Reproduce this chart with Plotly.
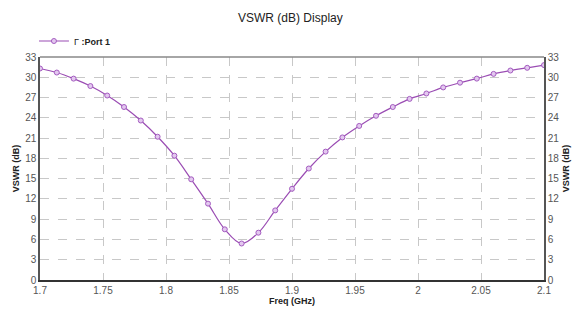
import numpy as np
import plotly.graph_objects as go

freq_start = 1.7
freq_stop = 2.1
n_points = 31
freq = [round(freq_start + i * (freq_stop - freq_start) / (n_points - 1), 5) for i in range(n_points)]
vswr_db = [31.3, 30.7, 29.8, 28.7, 27.3, 25.6, 23.6, 21.2, 18.4, 14.9,
           11.3, 7.5, 5.4, 7.0, 10.3, 13.5, 16.5, 19.0, 21.1, 22.8,
           24.3, 25.6, 26.8, 27.6, 28.5, 29.2, 29.8, 30.5, 31.0, 31.4, 31.8]
x_ticks = [1.7, 1.75, 1.8, 1.85, 1.9, 1.95, 2.0, 2.05, 2.1]
x_tick_labels = ["1.7", "1.75", "1.8", "1.85", "1.9", "1.95", "2", "2.05", "2.1"]
y_ticks = [0, 3, 6, 9, 12, 15, 18, 21, 24, 27, 30, 33]

line_col = "#9a4cb3"
fig = go.Figure()
fig.add_trace(go.Scatter(
    x=freq, y=vswr_db, mode="lines+markers",
    line=dict(color=line_col, width=1.2, shape="spline"),
    marker=dict(symbol="circle", size=5, color="#e3c8ef", line=dict(color="#a45cc0", width=1)),
    name="<span style='font-weight:normal'>Γ</span> <b>:Port 1</b>",
))
fig.add_trace(go.Scatter(
    x=freq, y=vswr_db, yaxis="y2", mode="lines",
    line=dict(color="rgba(0,0,0,0)"), showlegend=False, hoverinfo="skip",
))

tick_font = dict(family="Liberation Sans Narrow, Liberation Sans, Arial", size=10, color="#555")
title_font = dict(family="Liberation Sans, Arial", size=9, color="#222")
yaxis_common = dict(
    range=[0, 33], tickvals=y_ticks, ticks="", tickfont=tick_font,
    title=dict(text="<b>VSWR (dB)</b>", font=title_font, standoff=4),
)
fig.update_layout(
    width=575, height=315,
    margin=dict(l=40, r=31, t=57, b=35, autoexpand=False),
    paper_bgcolor="white", plot_bgcolor="white",
    title=dict(text="VSWR (dB) Display", x=0.505, xanchor="center", y=1 - 18 / 315, yanchor="middle",
               font=dict(family="Liberation Sans, Arial", size=12, color="#222")),
    showlegend=True,
    legend=dict(x=-0.012, y=1 - 41 / 315, xref="paper", yref="container", yanchor="middle", xanchor="left",
                orientation="h", font=dict(family="Liberation Sans, Arial", size=9, color="#222"),
                itemwidth=30, bgcolor="rgba(0,0,0,0)", tracegroupgap=0),
    xaxis=dict(range=[freq_start, freq_stop], tickvals=x_ticks, ticktext=x_tick_labels,
               ticks="", tickfont=tick_font, showgrid=True, gridcolor="#c8c8c8", griddash="dash",
               gridwidth=1, showline=True, linecolor="#333", linewidth=1.5, mirror=False,
               zeroline=False,
               title=dict(text="<b>Freq (GHz)</b>", font=title_font, standoff=2)),
    yaxis=dict(**yaxis_common, showgrid=True, gridcolor="#c8c8c8", griddash="dash", gridwidth=1,
               showline=True, linecolor="#555", linewidth=1.5, zeroline=False),
    yaxis2=dict(**yaxis_common, overlaying="y", side="right", showgrid=False,
                showline=True, linecolor="#555", linewidth=1.5, zeroline=False),
    shapes=[dict(type="line", xref="paper", yref="paper", x0=0, x1=1, y0=1, y1=1,
                 line=dict(color="#888", width=1.5))],
)
fig.write_html("out.html", config={"displayModeBar": False},
               post_script="document.body.style.margin='0';document.body.style.overflow='hidden';")
